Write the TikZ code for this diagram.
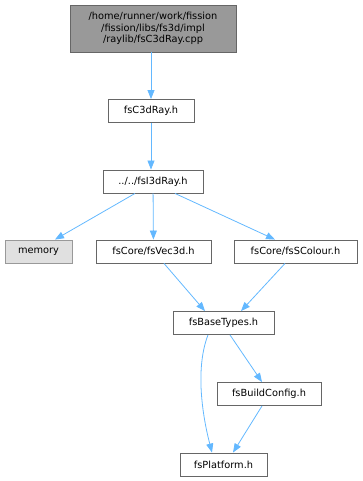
\documentclass[tikz,border=0pt]{standalone}
\usepackage{fontspec}
\setmainfont{DejaVu Sans}
\usetikzlibrary{positioning,arrows.meta}
\definecolor{edgeblue}{RGB}{99,184,255}
\definecolor{boxgray}{RGB}{102,102,102}
\definecolor{rootfill}{RGB}{153,153,153}
\definecolor{sysfill}{RGB}{224,224,224}
\definecolor{sysgray}{RGB}{153,153,153}

\begin{document}
\begin{tikzpicture}[x=1pt, y=-1pt,
  file/.style={draw=boxgray, fill=white, line width=0.9pt, inner xsep=3pt, inner ysep=0pt, minimum height=23pt, font=\fontsize{9.8}{11.5}\selectfont},
  root/.style={file, fill=rootfill, align=center, minimum width=166pt, minimum height=47pt},
  sys/.style={file, draw=sysgray, fill=sysfill},
  arr/.style={-{Triangle[length=9pt, width=7pt]}, line width=0.8pt, edgeblue}
]
\useasboundingbox (0,0) rectangle (363,481);

\node[root] (cpp) at (153,28.5) {/home/runner/work/fission\\/fission/libs/fs3d/impl\\/raylib/fsC3dRay.cpp};
\node[file, minimum width=86pt] (c3d) at (151,111) {fsC3dRay.h};
\node[file, minimum width=100pt] (i3d) at (153,181.5) {../../fsI3dRay.h};
\node[sys, minimum width=67pt] (mem) at (38.5,251.5) {memory};
\node[file, minimum width=115pt] (vec) at (153.5,251.5) {fsCore/fsVec3d.h};
\node[file, minimum width=123pt] (col) at (295.5,251.5) {fsCore/fsSColour.h};
\node[file, minimum width=101pt] (base) at (223.5,323) {fsBaseTypes.h};
\node[file, minimum width=104pt] (cfg) at (269,394) {fsBuildConfig.h};
\node[file, minimum width=87pt] (plat) at (223.5,464.5) {fsPlatform.h};

\draw[arr] (cpp.south -| 151,0) -- (c3d.north -| 151,0);
\draw[arr] (c3d.south -| 151,0) -- (i3d.north -| 151,0);
\draw[arr] (i3d.south -| 135,0) -- (mem.north -| 55,0);
\draw[arr] (i3d) -- (vec);
\draw[arr] (i3d.south -| 175,0) -- (col.north -| 275,0);
\draw[arr] (vec.south -| 164,0) -- (base.north -| 205,0);
\draw[arr] (col.south -| 285,0) -- (base.north -| 241,0);
\draw[arr] (base.south -| 230,0) -- (cfg.north -| 262,0);
\draw[arr] (base.south -| 208,0) .. controls (196,366) and (201,410) .. (plat.north -| 212,0);
\draw[arr] (cfg.south -| 262,0) -- (plat.north -| 233,0);
\end{tikzpicture}
\end{document}
